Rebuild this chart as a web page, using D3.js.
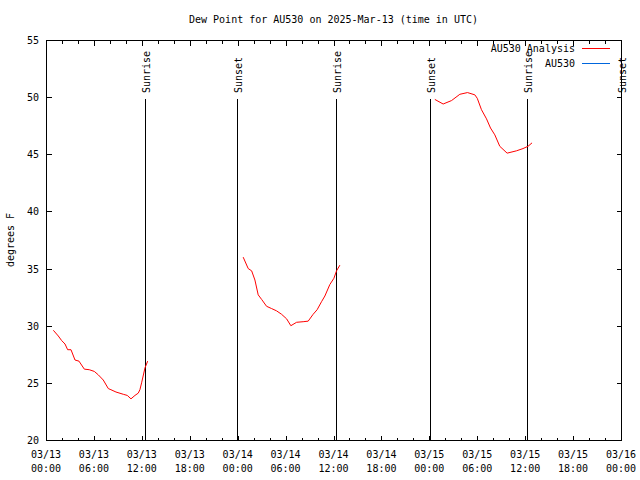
<!DOCTYPE html>
<html><head><meta charset="utf-8">
<script src="https://cdn.jsdelivr.net/npm/d3@7"></script>
<style>
body{margin:0;background:#fff;}
text{font-family:"DejaVu Sans Mono",monospace;font-size:10px;fill:#000;}
</style></head>
<body><svg id="c" width="640" height="480"></svg>
<script>
const title = "Dew Point for AU530 on 2025-Mar-13 (time in UTC)";
const yLabel = "degrees F";
const baseTime = Date.UTC(2025, 2, 13, 0, 0);
// hours since 2025-03-13 00:00 UTC; null = gap
const analysisHours = [0.92,1.54,1.96,2.38,2.71,3.13,3.63,4.13,4.8,5.42,6.05,6.55,7.17,7.8,8.13,8.76,9.68,10.18,10.64,11.14,11.55,11.76,11.97,12.39,12.73,
  null,
  24.69,25.32,25.75,26.16,26.57,27.0,27.62,28.25,28.87,29.5,30.13,30.66,31.38,32.2,32.83,33.45,33.95,34.5,34.92,35.54,36.05,36.38,36.8,
  null,
  48.69,49.73,50.78,51.82,52.78,53.7,54.0,54.53,55.16,55.66,56.2,56.82,57.74,58.9,59.73,60.36,60.86];
const analysisValues = [29.6,29.1,28.7,28.4,27.9,27.9,27.0,26.9,26.2,26.15,26.0,25.7,25.25,24.5,24.4,24.2,24.0,23.9,23.6,23.9,24.1,24.4,25.0,26.3,26.9,
  null,
  36.0,35.0,34.8,34.0,32.7,32.3,31.7,31.5,31.3,31.0,30.6,30.0,30.3,30.35,30.4,31.0,31.4,32.1,32.6,33.6,34.15,34.8,35.3,
  null,
  49.8,49.4,49.7,50.25,50.4,50.2,49.9,48.9,48.1,47.3,46.7,45.7,45.1,45.3,45.5,45.7,46.0];
const observedHours = [];
const observedValues = [];
const eventHours = [12.35, 23.94, 36.37, 48.06, 60.24, 72.0];
const eventNames = ["Sunrise","Sunset","Sunrise","Sunset","Sunrise","Sunset"];
const seriesNames = ["AU530 Analysis","AU530"];
const seriesColors = ["#ff0000","#0066dd"];
const yTicks = [20,25,30,35,40,45,50,55];
const xTickHours = [0,6,12,18,24,30,36,42,48,54,60,66,72];

const svg = d3.select("#c");
const L=46, R=621, T=40, B=440;
const hd = h => new Date(baseTime + h*3600000);
const x = d3.scaleUtc().domain([hd(0), hd(72)]).range([L, R]);
const y = d3.scaleLinear().domain([20,55]).range([B, T]);

const g = svg.append("g");
// border
g.append("rect").attr("x",L+0.5).attr("y",T+0.5).attr("width",R-L).attr("height",B-T)
 .attr("fill","none").attr("stroke","#000").attr("shape-rendering","crispEdges");

// x ticks (major 6h, minor 2h) bottom and top
const fmtD = d3.utcFormat("%m/%d"), fmtT = d3.utcFormat("%H:%M");
for (let h=0; h<=72; h+=2) {
  const px = Math.round(x(hd(h)))+0.5;
  const len = (h%6===0) ? 5 : 3;
  g.append("line").attr("x1",px).attr("x2",px).attr("y1",B+0.5).attr("y2",B+0.5-len).attr("stroke","#000").attr("shape-rendering","crispEdges");
  g.append("line").attr("x1",px).attr("x2",px).attr("y1",T+0.5).attr("y2",T+0.5+len).attr("stroke","#000").attr("shape-rendering","crispEdges");
}
xTickHours.forEach(h => {
  const px = x(hd(h));
  const t = g.append("text").attr("text-anchor","middle").attr("x",px);
  t.append("tspan").attr("x",px).attr("y",458).text(fmtD(hd(h)));
  t.append("tspan").attr("x",px).attr("y",472).text(fmtT(hd(h)));
});
// y ticks
yTicks.forEach(v => {
  const py = Math.round(y(v))+0.5;
  g.append("line").attr("x1",L+0.5).attr("x2",L+5.5).attr("y1",py).attr("y2",py).attr("stroke","#000").attr("shape-rendering","crispEdges");
  g.append("line").attr("x1",R+0.5).attr("x2",R-4.5).attr("y1",py).attr("y2",py).attr("stroke","#000").attr("shape-rendering","crispEdges");
  g.append("text").attr("x",39).attr("y",y(v)+4).attr("text-anchor","end").text(v);
});

// title and y label
svg.append("text").attr("x",(L+R)/2).attr("y",23).attr("text-anchor","middle").text(title);
svg.append("text").attr("transform","translate(14,240) rotate(-90)").attr("text-anchor","middle").text(yLabel);

// event lines
eventHours.forEach((h,i) => {
  const px = Math.round(x(hd(h)))+0.5;
  g.append("line").attr("x1",px).attr("x2",px).attr("y1",99).attr("y2",B).attr("stroke","#000").attr("shape-rendering","crispEdges");
  g.append("text").attr("transform",`translate(${px+4},93) rotate(-90)`).attr("text-anchor","start").text(eventNames[i]);
});

// series
const aData = analysisHours.map((h,i)=>({h, v: analysisValues[i]}));
const line = d3.line().defined(d=>d.h!==null && d.v!==null).x(d=>x(hd(d.h))).y(d=>y(d.v));
g.append("path").datum(aData).attr("d",line).attr("fill","none").attr("stroke",seriesColors[0]).attr("stroke-width",1);
const oData = observedHours.map((h,i)=>({h, v: observedValues[i]}));
g.append("path").datum(oData).attr("d",line).attr("fill","none").attr("stroke",seriesColors[1]).attr("stroke-width",1);

// legend
seriesNames.forEach((n,i) => {
  const ly = 48 + i*14.5;
  svg.append("text").attr("x",575).attr("y",ly+4).attr("text-anchor","end").text(n);
  svg.append("line").attr("x1",582).attr("x2",610).attr("y1",Math.round(ly)+0.5).attr("y2",Math.round(ly)+0.5)
    .attr("stroke",seriesColors[i]).attr("shape-rendering","crispEdges");
});
</script></body></html>
